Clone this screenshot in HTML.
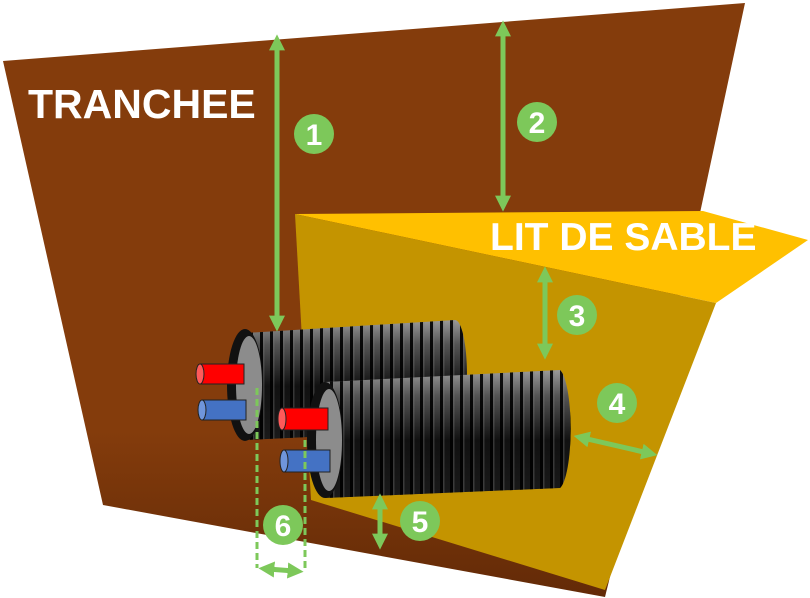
<!DOCTYPE html>
<html><head><meta charset="utf-8"><style>
html,body{margin:0;padding:0;background:#fff;width:810px;height:598px;overflow:hidden}
svg{display:block}
text{font-family:"Liberation Sans",sans-serif;font-weight:bold}
</style></head><body>
<svg width="810" height="598" viewBox="0 0 810 598" xmlns="http://www.w3.org/2000/svg">
<defs>
<linearGradient id="brownG" x1="0" y1="0" x2="0" y2="1">
<stop offset="0.72" stop-color="#843C0C"/><stop offset="1" stop-color="#632a07"/>
</linearGradient>
<linearGradient id="pipeV" x1="0" y1="0" x2="0" y2="1">
<stop offset="0" stop-color="#9a9a9a"/><stop offset="0.2" stop-color="#555"/><stop offset="0.55" stop-color="#111"/><stop offset="1" stop-color="#1a1a1a"/>
</linearGradient>
<pattern id="ribs" width="10" height="200" patternUnits="userSpaceOnUse">
<rect x="0" width="3" height="200" fill="#000" opacity="0.9"/>
<rect x="3" width="1.5" height="200" fill="#777" opacity="0.35"/>
</pattern>
<marker id="ah" viewBox="0 0 10 10" refX="4" refY="5" markerWidth="3.2" markerHeight="3.2" orient="auto-start-reverse">
<path d="M0,0 L10,5 L0,10 z" fill="#7DC85A"/>
</marker>
</defs>

<!-- trench -->
<polygon points="3,61 745,3 700,213 605,597 103,505" fill="url(#brownG)"/>

<!-- sand -->
<polygon points="295,214 703,211 808,240 716,303" fill="#FFC000"/>
<polygon points="295,214 716,303 605,590 311,500" fill="#C49400"/>

<!-- back pipe -->
<g>
<path d="M245,333 L455,320 A12,55 0 0 1 455,430 L245,440 Z" fill="url(#pipeV)"/>
<path d="M245,333 L455,320 A12,55 0 0 1 455,430 L245,440 Z" fill="url(#ribs)"/>
<ellipse cx="245" cy="385" rx="18" ry="56" fill="#111"/>
<ellipse cx="249" cy="385" rx="13" ry="49" fill="#8c8c8c"/>
<rect x="200" y="364" width="44" height="20" fill="#f00" stroke="#222" stroke-width="1"/>
<ellipse cx="200" cy="374" rx="4" ry="10" fill="#ff5a5a" stroke="#222" stroke-width="1"/>
<rect x="202" y="400" width="44" height="20" fill="#4472C4" stroke="#222" stroke-width="1"/>
<ellipse cx="202" cy="410" rx="4" ry="10" fill="#6f95db" stroke="#222" stroke-width="1"/>
</g>

<!-- front pipe -->
<g>
<path d="M325,382 L560,370 A13,60 0 0 1 560,488 L325,498 Z" fill="url(#pipeV)"/>
<path d="M325,382 L560,370 A13,60 0 0 1 560,488 L325,498 Z" fill="url(#ribs)"/>
<ellipse cx="325" cy="440" rx="18" ry="58" fill="#111"/>
<ellipse cx="329" cy="440" rx="13" ry="51" fill="#8c8c8c"/>
<rect x="282" y="408" width="46" height="22" fill="#f00" stroke="#222" stroke-width="1"/>
<ellipse cx="282" cy="419" rx="4" ry="11" fill="#ff5a5a" stroke="#222" stroke-width="1"/>
<rect x="284" y="450" width="46" height="22" fill="#4472C4" stroke="#222" stroke-width="1"/>
<ellipse cx="284" cy="461" rx="4" ry="11" fill="#6f95db" stroke="#222" stroke-width="1"/>
</g>

<!-- arrows -->
<g stroke="#7DC85A" stroke-width="5" fill="none">
<line x1="277" y1="44" x2="277" y2="322" marker-start="url(#ah)" marker-end="url(#ah)"/>
<line x1="503" y1="30" x2="503" y2="202" marker-start="url(#ah)" marker-end="url(#ah)"/>
<line x1="545" y1="276" x2="545" y2="350" marker-start="url(#ah)" marker-end="url(#ah)"/>
<line x1="583" y1="438" x2="648" y2="453" marker-start="url(#ah)" marker-end="url(#ah)"/>
<line x1="380" y1="503" x2="380" y2="540" marker-start="url(#ah)" marker-end="url(#ah)"/>
<line x1="268" y1="569" x2="294" y2="571" marker-start="url(#ah)" marker-end="url(#ah)"/>
<line x1="257" y1="388" x2="257" y2="568" stroke-width="3" stroke-dasharray="7,4"/>
<line x1="305" y1="440" x2="305" y2="570" stroke-width="3" stroke-dasharray="7,4"/>
</g>

<!-- circles -->
<g fill="#7DC85A">
<circle cx="314" cy="134" r="20"/>
<circle cx="537" cy="122" r="20"/>
<circle cx="577" cy="315" r="20"/>
<circle cx="617" cy="403" r="20"/>
<circle cx="420" cy="521" r="20"/>
<circle cx="283" cy="525" r="20"/>
</g>
<g fill="#fff" font-size="30" text-anchor="middle">
<text x="314" y="145">1</text>
<text x="537" y="133">2</text>
<text x="577" y="326">3</text>
<text x="617" y="414">4</text>
<text x="420" y="532">5</text>
<text x="283" y="536">6</text>
</g>

<text x="28" y="118" fill="#fff" font-size="41">TRANCHEE</text>
<text x="490" y="250" fill="#fff" font-size="39">LIT DE SABLE</text>
</svg>
</body></html>
